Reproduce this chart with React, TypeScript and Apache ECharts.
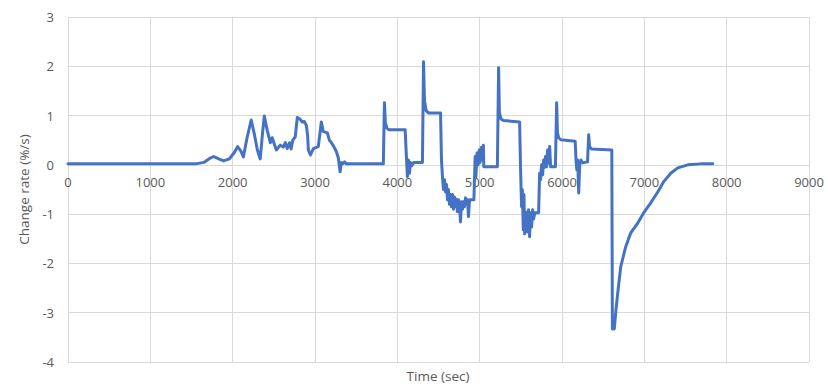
import React, { useEffect, useRef } from "react";
import * as echarts from "echarts";

// Time (sec) and change rate (%/s)
const timeSec: number[] = [
  0, 1550, 1650, 1720, 1770, 1830, 1890, 1960, 2020, 2060, 2100, 2130, 2175, 2225, 2260, 2300, 2335, 2360, 2384, 2420,
  2457, 2480, 2530, 2578, 2615, 2640, 2663, 2690, 2710, 2730, 2760, 2785, 2815, 2845, 2870, 2895, 2910, 2920, 2945, 2980,
  3040, 3077, 3100, 3150, 3175, 3200, 3225, 3259, 3284, 3305, 3320, 3335, 3360, 3380, 3830, 3843, 3855, 3875, 3900, 4095,
  4110, 4122, 4135, 4147, 4160, 4175, 4200, 4305, 4318, 4330, 4350, 4380, 4525, 4536, 4548, 4560, 4573, 4585, 4597, 4609,
  4621, 4633, 4645, 4658, 4670, 4682, 4694, 4706, 4718, 4730, 4743, 4755, 4767, 4779, 4791, 4803, 4815, 4828, 4840, 4852,
  4864, 4877, 4930, 4945, 4955, 4968, 4980, 4995, 5005, 5020, 5032, 5045, 5050, 5215, 5230, 5240, 5260, 5290, 5485, 5497,
  5509, 5518, 5530, 5538, 5546, 5558, 5570, 5582, 5594, 5606, 5619, 5631, 5643, 5655, 5670, 5716, 5728, 5740, 5752, 5765,
  5777, 5789, 5800, 5812, 5825, 5837, 5850, 5862, 5920, 5935, 5945, 5960, 5985, 6160, 6170, 6180, 6190, 6203, 6215, 6230,
  6250, 6310, 6324, 6335, 6360, 6605, 6612, 6635, 6655, 6677, 6713, 6774, 6835, 6920, 6993, 7078, 7163, 7236, 7321, 7406,
  7528, 7686, 7832,
];

const changeRate: number[] = [
  0.02, 0.02, 0.05, 0.13, 0.17, 0.12, 0.08, 0.12, 0.25, 0.37, 0.28, 0.16, 0.55, 0.91, 0.65, 0.3, 0.12, 0.6, 0.99, 0.7,
  0.45, 0.55, 0.3, 0.4, 0.36, 0.45, 0.33, 0.45, 0.32, 0.5, 0.57, 0.96, 0.93, 0.87, 0.88, 0.8, 0.6, 0.3, 0.2, 0.33,
  0.37, 0.87, 0.68, 0.65, 0.5, 0.45, 0.38, 0.27, 0.14, -0.14, 0.05, 0.02, 0.06, 0.02, 0.02, 1.26, 0.85, 0.74, 0.71, 0.71,
  0.17, -0.24, 0.1, -0.17, 0.05, -0.02, 0.05, 0.05, 2.09, 1.3, 1.1, 1.05, 1.05, 0.1, -0.24, -0.5, -0.3, -0.55, -0.4, -0.71,
  -0.5, -0.8, -0.6, -0.85, -0.6, -0.9, -0.65, -0.85, -0.7, -0.95, -0.71, -0.8, -1.16, -0.75, -0.9, -0.75, -0.85, -0.67, -0.75, -0.71,
  -1.05, -0.71, -0.71, 0.17, -0.24, 0.24, 0.0, 0.3, 0.05, 0.35, 0.1, 0.4, -0.04, -0.04, 1.97, 1.05, 0.93, 0.9, 0.87, -0.1,
  -0.85, -0.5, -1.32, -0.6, -1.4, -0.95, -1.25, -1.36, -0.91, -1.46, -0.97, -1.26, -0.91, -1.1, -0.97, -0.97, -0.17, -0.3, 0.0, -0.2,
  0.1, -0.05, 0.17, -0.04, 0.3, 0.04, 0.37, -0.04, -0.04, 1.26, 0.65, 0.55, 0.51, 0.48, 0.1, -0.1, 0.1, -0.57, 0.0, 0.1,
  0.04, 0.06, 0.61, 0.37, 0.32, 0.3, -3.33, -3.33, -2.95, -2.6, -2.07, -1.66, -1.38, -1.18, -0.97, -0.77, -0.55, -0.34, -0.17, -0.06,
  0.0, 0.02, 0.02,
];

const xMin = 0;
const xMax = 9000;
const xStep = 1000;
const yMin = -4;
const yMax = 3;
const yStep = 1;

const xTitle = "Time (sec)";
const yTitle = "Change rate (%/s)";

const FONT = "'Open Sans', sans-serif";
const TEXT_COLOR = "#595959";
const GRID_COLOR = "#d9d9d9";

const GRID_TOP = 17;
const GRID_BOTTOM = 26;
const CHART_H = 388;

export default function App() {
  const ref = useRef<HTMLDivElement>(null);

  useEffect(() => {
    document.body.style.margin = "0";
    if (!ref.current) return;
    const chart = echarts.init(ref.current, undefined, { renderer: "svg" });
    const data = timeSec.map((t, i) => [t, changeRate[i]]);
    const plotH = CHART_H - GRID_TOP - GRID_BOTTOM;
    const zeroFromBottom = (plotH * (0 - yMin)) / (yMax - yMin);
    chart.setOption({
      animation: false,
      backgroundColor: "#ffffff",
      grid: { left: 68, right: 19, top: GRID_TOP, bottom: GRID_BOTTOM, containLabel: false },
      xAxis: {
        type: "value",
        min: xMin,
        max: xMax,
        interval: xStep,
        position: "bottom",
        offset: -zeroFromBottom,
        axisLine: { show: true, onZero: false, lineStyle: { color: GRID_COLOR, width: 1 } },
        axisTick: { show: false },
        axisLabel: {
          color: TEXT_COLOR,
          fontSize: 13,
          fontFamily: FONT,
          margin: 11,
          formatter: (v: number) => String(v),
        },
        splitLine: { show: true, lineStyle: { color: GRID_COLOR, width: 1 } },
      },
      yAxis: {
        type: "value",
        min: yMin,
        max: yMax,
        interval: yStep,
        axisLine: { show: false },
        axisTick: { show: false },
        axisLabel: { color: TEXT_COLOR, fontSize: 13, fontFamily: FONT, margin: 14 },
        splitLine: { show: true, lineStyle: { color: GRID_COLOR, width: 1 } },
        name: yTitle,
        nameLocation: "middle",
        nameGap: 34,
        nameTextStyle: { color: TEXT_COLOR, fontSize: 13.5, fontFamily: FONT },
      },
      graphic: [
        {
          type: "text",
          x: 438,
          y: 376,
          style: {
            text: xTitle,
            fill: TEXT_COLOR,
            fontSize: 13.5,
            fontFamily: FONT,
            align: "center",
            verticalAlign: "middle",
          },
        },
      ],
      series: [
        {
          type: "line",
          data,
          showSymbol: false,
          symbol: "none",
          smooth: false,
          lineStyle: { color: "#4472C4", width: 3, join: "round", cap: "round" },
          z: 3,
        },
      ],
    });
    return () => chart.dispose();
  }, []);

  return <div ref={ref} style={{ width: 828, height: 388 }} />;
}
